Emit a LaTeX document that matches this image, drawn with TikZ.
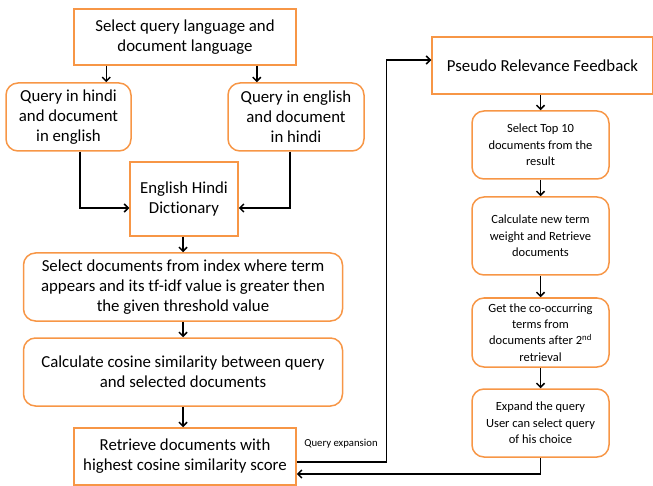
\documentclass[tikz,border=0pt]{standalone}
\usepackage{fontspec}
\setmainfont[Ligatures=NoCommon]{Carlito}
\usetikzlibrary{arrows.meta}
\definecolor{boxorange}{RGB}{247,150,70}
\tikzstyle{sbox} = [draw=boxorange, line width=1.5pt, align=center, inner sep=2pt,
    font=\fontsize{16.8}{20}\selectfont]
\tikzstyle{rbox} = [sbox, rounded corners=12pt]
\tikzstyle{pbox} = [rbox, font=\fontsize{12.5}{16.3}\selectfont, minimum width=137pt]
\tikzstyle{arr} = [draw=black, line width=1.5pt, -{Straight Barb[length=4pt,width=8pt]}]
\newcommand{\bigbox}[5]{
    \node(#1) at (#2) [sbox, minimum width=#3pt, minimum height=#4pt] {#5};
}

\begin{document}
\begin{tikzpicture}[x=1pt,y=-1pt]
	\useasboundingbox (0,0) rectangle (653,486);

	\bigbox{lang}{185,37}{222}{56}{Select query language and\\document language}
	\node(hindiq) at (68.5,117) [rbox, minimum width=125pt, minimum height=68pt] {Query in hindi\\and document\\in english};
	\node(engq) at (296,117) [rbox, minimum width=136pt, minimum height=68pt] {Query in english\\and document\\in hindi};
	\bigbox{dict}{184,199}{108}{74}{English Hindi\\Dictionary}
	\node(select) at (183,287) [rbox, minimum width=319pt, minimum height=68pt] {Select documents from index where term\\appears and its tf-idf value is greater then\\the given threshold value};
	\node(cosine) at (183,372) [rbox, minimum width=319pt, minimum height=68pt] {Calculate cosine similarity between query\\and selected documents};
	\bigbox{retrieve}{185,456.5}{222}{57}{Retrieve documents with\\highest cosine similarity score}

	\bigbox{prf}{542.5,65.5}{221}{57}{Pseudo Relevance Feedback}
	\node(top10) at (540.5,145) [pbox, minimum height=68pt] {Select Top 10\\documents from the\\result};
	\node(newterm) at (540.5,236) [pbox, minimum height=78pt] {Calculate new term\\weight and Retrieve\\documents};
	\node(cooc) at (540.5,332.5) [pbox, minimum height=69pt] {Get the co-occurring\\terms from\\documents after 2\textsuperscript{nd}\\retrieval};
	\node(expand) at (540.5,423) [pbox, minimum height=68pt] {Expand the query\\User can select query\\of his choice};

	\draw[arr] ([xshift=33pt]lang.south west) -- ([xshift=33pt]lang.south west |- hindiq.north);
	\draw[arr] ([xshift=-40pt]lang.south east) -- ([xshift=-40pt]lang.south east |- engq.north);
	\draw[arr] ([xshift=11.5pt]hindiq.south) |- ([yshift=-9pt]dict.west);
	\draw[arr] ([xshift=-6pt]engq.south) |- ([yshift=-9pt]dict.east);
	\draw[arr] (dict.south -| select.north) -- (select.north);
	\draw[arr] (select) -- (cosine);
	\draw[arr] (cosine.south) -- (cosine.south |- retrieve.north);

	\draw[arr] ([yshift=-5.5pt]retrieve.east) -| ([xshift=-45pt,yshift=5.5pt]prf.west) -- ([yshift=5.5pt]prf.west);
	\node(qexp) at (341,444) [font=\fontsize{10.7}{12}\selectfont] {Query expansion};

	\draw[arr] (prf.south -| top10.north) -- (top10.north);
	\draw[arr] (top10) -- (newterm);
	\draw[arr] (newterm) -- (cooc);
	\draw[arr] (cooc) -- (expand);
	\draw[arr] (expand.south) |- ([yshift=-17.5pt]retrieve.east);
\end{tikzpicture}
\end{document}
